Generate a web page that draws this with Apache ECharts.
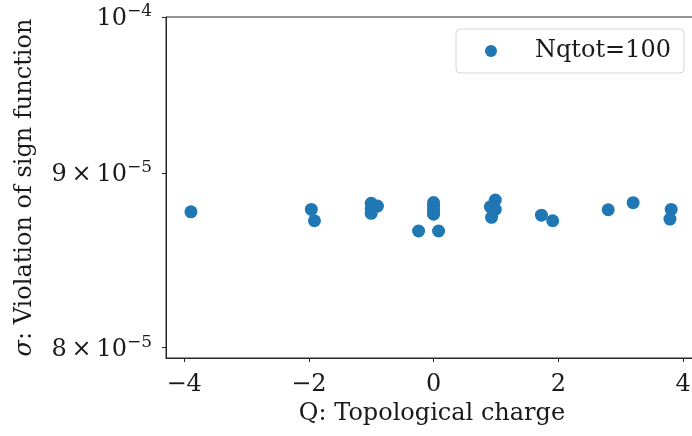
<!DOCTYPE html>
<html>
<head>
<meta charset="utf-8">
<script src="https://cdn.jsdelivr.net/npm/echarts@6/dist/echarts.min.js"></script>
<style>
    html, body { margin: 0; padding: 0; background: #fff; }
    #chart { width: 692px; height: 436px; }
</style>
</head>
<body>
<div id="chart"></div>
<script>
    // topological charge Q and sign-function violation sigma
    var charges = [-3.89, -1.96, -1.91, -1.00, -0.90, -1.00, -1.00,
                   0.00, 0.00, 0.00, 0.00, 0.00, -0.24, 0.08,
                   0.99, 0.91, 0.99, 0.93, 1.73, 1.91, 2.80, 3.20, 3.81, 3.79];
    var sigmas = [8.768e-5, 8.782e-5, 8.715e-5, 8.818e-5, 8.802e-5, 8.782e-5, 8.759e-5,
                  8.823e-5, 8.802e-5, 8.784e-5, 8.769e-5, 8.754e-5, 8.655e-5, 8.655e-5,
                  8.838e-5, 8.798e-5, 8.782e-5, 8.735e-5, 8.748e-5, 8.715e-5, 8.780e-5, 8.822e-5, 8.782e-5, 8.725e-5];
    var xTicks = [-4, -2, 0, 2, 4];
    var yTicks = [8e-5, 9e-5, 1e-4];
    var seriesName = 'Nqtot=100';

    var font = 'DejaVu Serif';
    var ink = '#1a1a1a';
    var points = charges.map(function (q, i) { return [q, sigmas[i]]; });

    // 9e-5 -> "9 × 10^-5", 1e-4 -> "10^-4"
    function yLabel(v) {
        var exp = Math.floor(Math.log10(v) + 1e-9);
        var mant = Math.round(v / Math.pow(10, exp));
        var sup = '{s|\u2212' + (-exp) + '}';
        if (mant === 1) return '{b|10}' + sup;
        return '{b|' + mant + '\u2009\u00d7\u200910}' + sup;
    }

    var chart = echarts.init(document.getElementById('chart'));
    chart.setOption({
        animation: false,
        grid: {
            left: 166, top: 17, bottom: 78, right: -6,
            show: true, borderColor: '#262626', borderWidth: 1,
            outerBoundsMode: 'none'
        },
        legend: {
            data: [seriesName],
            left: 456, top: 29,
            padding: [10, 13, 10, 29],
            borderColor: '#d6d6d6', borderWidth: 1, borderRadius: 4,
            icon: 'circle', itemWidth: 12, itemHeight: 12,
            textStyle: { fontFamily: font, fontSize: 24, color: ink, padding: [0, 0, 0, 33] }
        },
        xAxis: {
            type: 'value',
            min: -4.29, max: 4.24,
            name: 'Q: Topological charge',
            nameLocation: 'middle', nameGap: 44,
            nameTextStyle: { fontFamily: font, fontSize: 24, color: ink },
            splitLine: { show: false },
            axisLine: { show: true, onZero: false, lineStyle: { color: '#262626', width: 1 } },
            axisTick: { show: true, customValues: xTicks, length: 4, lineStyle: { color: '#262626' } },
            axisLabel: {
                customValues: xTicks, margin: 15,
                fontFamily: font, fontSize: 24, color: ink,
                formatter: function (v) { return String(v).replace('-', '\u2212'); }
            }
        },
        yAxis: {
            type: 'log',
            min: 7.944e-5, max: 1e-4,
            name: '{i|\u03c3}: Violation of sign function',
            nameLocation: 'middle', nameGap: 129,
            nameTextStyle: {
                fontFamily: font, fontSize: 24, color: ink,
                rich: { i: { fontFamily: font, fontSize: 24, fontStyle: 'italic', color: ink } }
            },
            splitLine: { show: false },
            axisLine: { show: true, onZero: false, lineStyle: { color: '#262626', width: 1 } },
            axisTick: { show: true, customValues: yTicks, length: 4, lineStyle: { color: '#262626' } },
            axisLabel: {
                customValues: yTicks, margin: 14,
                formatter: yLabel,
                rich: {
                    b: { fontFamily: font, fontSize: 24, color: ink, lineHeight: 28, verticalAlign: 'bottom' },
                    s: { fontFamily: font, fontSize: 17, color: ink, lineHeight: 28, verticalAlign: 'top' }
                }
            }
        },
        series: [{
            name: seriesName,
            type: 'scatter',
            data: points,
            symbolSize: 13,
            itemStyle: { color: '#1f77b4', opacity: 1 }
        }]
    });
</script>
</body>
</html>
